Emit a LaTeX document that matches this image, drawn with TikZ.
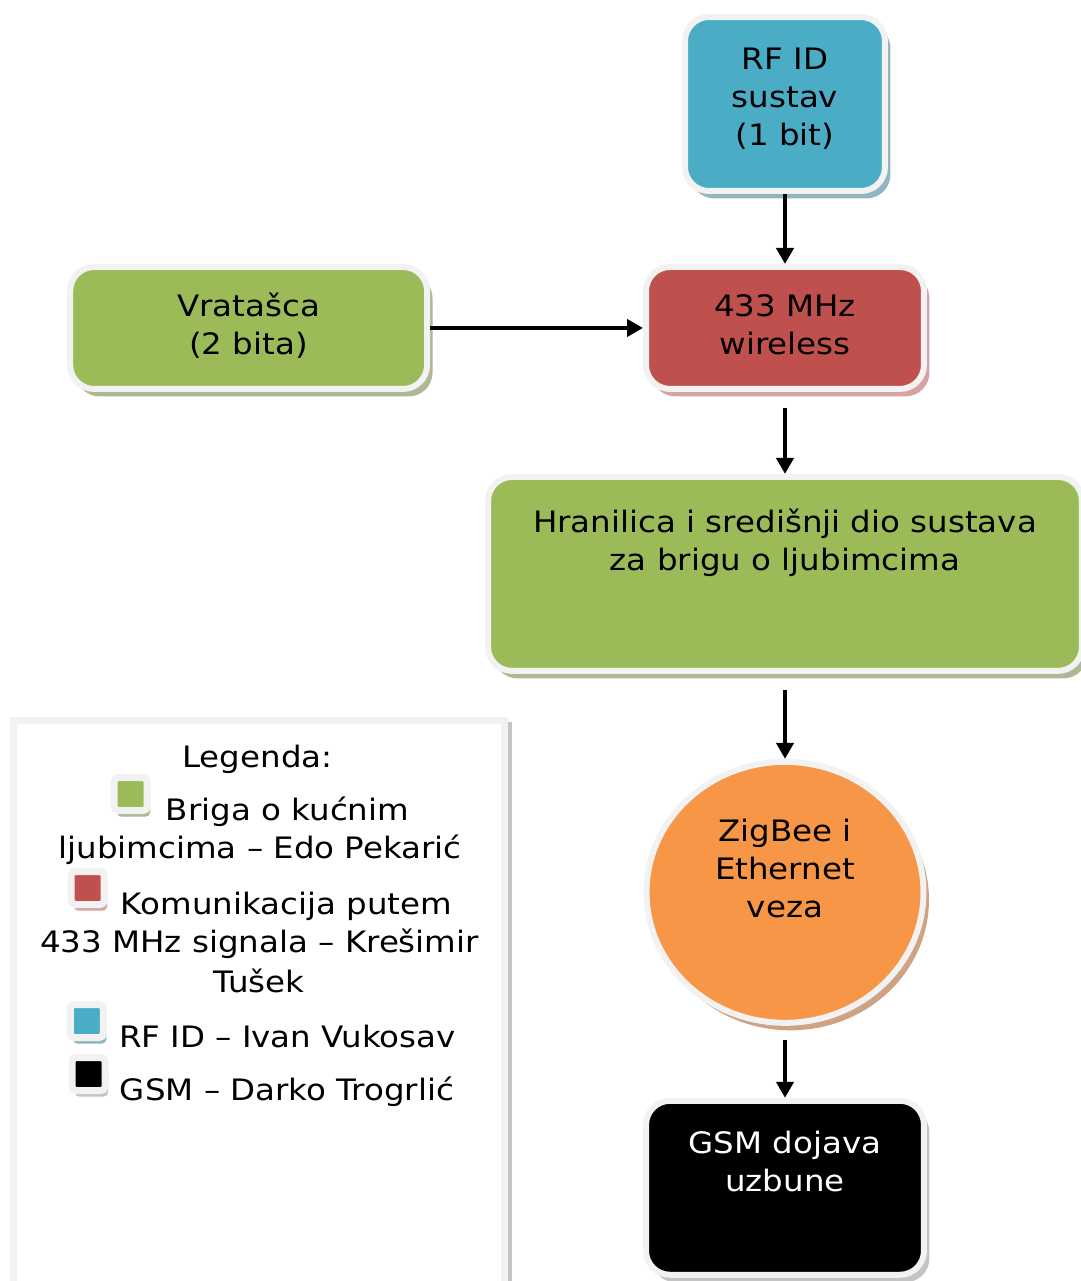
\documentclass[tikz,border=0pt]{standalone}
\usepackage{fontspec}
\setmainfont{DejaVu Sans}[FakeStretch=1.1]
\usetikzlibrary{positioning, shapes.geometric, shadows, arrows.meta}
\definecolor{rfblue}{HTML}{4BACC6}
\definecolor{pgreen}{HTML}{9BBB59}
\definecolor{wred}{HTML}{C0504D}
\definecolor{zorange}{HTML}{F79646}
\definecolor{rim}{HTML}{F2F2F2}
\definecolor{shblue}{HTML}{93B5BF}
\definecolor{shgreen}{HTML}{ADB895}
\definecolor{shred}{HTML}{D4A3A2}
\definecolor{shorange}{HTML}{CFA283}
\definecolor{shgray}{HTML}{C4C4C4}
\tikzset{
  part/.style={draw=rim, line width=0.12cm, rounded corners=0.48cm, inner sep=0pt},
  sh/.style={drop shadow={shadow xshift=0.11cm, shadow yshift=-0.15cm, fill=#1, opacity=1}},
  ish/.style={drop shadow={shadow xshift=0.06cm, shadow yshift=-0.12cm, fill=#1, opacity=1}},
  txt/.style={align=center, inner sep=0pt, font=\fontsize{16.8}{21.6}\selectfont},
  legtxt/.style={inner sep=0pt, anchor=base, font=\fontsize{16.8}{21.6}\selectfont},
  icon/.style={draw=rim, fill=#1, line width=0.14cm, rounded corners=0.08cm,
    minimum size=0.66cm, inner sep=0pt},
  flow/.style={-{Triangle[width=0.34cm,length=0.32cm]}, line width=0.08cm},
}
\begin{document}
\begin{tikzpicture}[x=0.02cm, y=-0.02cm]
\useasboundingbox (0,0) rectangle (1081,1281);

% boxes of the chain
\node[part, fill=rfblue, sh=shblue, minimum width=4cm, minimum height=3.48cm] (rf) at (785,104) {};
\node[part, fill=wred, sh=shred, minimum width=5.56cm, minimum height=2.44cm] (wl) [below=1.40cm of rf] {};
\node[part, fill=pgreen, sh=shgreen, minimum width=7.14cm, minimum height=2.44cm] (vr) [left=4.26cm of wl] {};
\node[part, fill=pgreen, sh=shgreen, minimum width=11.88cm, minimum height=3.88cm] (hr) [below=1.64cm of wl] {};
\node[ellipse, draw=rim, line width=0.12cm, inner sep=0pt, fill=zorange, sh=shorange,
  minimum width=5.54cm, minimum height=5.22cm] (zb) [below=1.70cm of hr] {};
\node[part, fill=black, sh=shgray, minimum width=5.56cm, minimum height=3.48cm] (gsm) [below=1.44cm of zb] {};

% texts
\node[txt, below=0.68cm of rf.north] (rft) {RF ID\\sustav\\(1 bit)};
\node[txt, below=0.6cm of wl.north] (wlt) {433 MHz\\wireless};
\node[txt, below=0.58cm of vr.north] (vrt) {Vratašca\\(2 bita)};
\node[txt, below=0.7cm of hr.north] (hrt) {Hranilica i središnji dio sustava\\za brigu o ljubimcima};
\node[txt, below=1.2cm of zb.north] (zbt) {ZigBee i\\Ethernet\\veza};
\node[txt, text=white, below=0.66cm of gsm.north] (gsmt) {GSM dojava\\uzbune};

% connectors
\draw[flow] (rf) -- (wl);
\draw[flow] (vr) -- (wl);
\draw[flow, shorten <=0.32cm] (wl) -- (hr);
\draw[flow, shorten <=0.32cm] (hr) -- (zb);
\draw[flow, shorten <=0.28cm] (zb) -- (gsm);

% legend
\node[draw=rim, line width=0.14cm, fill=white, inner sep=0pt,
  drop shadow={shadow xshift=0.15cm, shadow yshift=-0.03cm, fill=shgray, opacity=1},
  minimum width=9.82cm, minimum height=11.6cm] (leg) at (259,1010) {};
\node[legtxt] (l0) at (257.5,767) {Legenda:};
\node[legtxt] (l1) at (287.5,820) {Briga o kućnim};
\node[legtxt] (l2) at (260,858) {ljubimcima – Edo Pekarić};
\node[legtxt] (l3) at (286.5,914) {Komunikacija putem};
\node[legtxt] (l4) at (259.5,952) {433 MHz signala – Krešimir};
\node[legtxt] (l5) at (259,992) {Tušek};
\node[legtxt] (l6) at (287.5,1047) {RF ID – Ivan Vukosav};
\node[legtxt] (l7) at (287,1100) {GSM – Darko Trogrlić};
\node[icon=pgreen, ish=shgreen, left=0.3cm of l1.base west, yshift=0.52cm] (i1) {};
\node[icon=wred, ish=shred, left=0.26cm of l3.base west, yshift=0.52cm] (i2) {};
\node[icon=rfblue, ish=shblue, left=0.24cm of l6.base west, yshift=0.52cm] (i3) {};
\node[icon=black, ish=shgray, left=0.22cm of l7.base west, yshift=0.52cm] (i4) {};
\end{tikzpicture}
\end{document}
